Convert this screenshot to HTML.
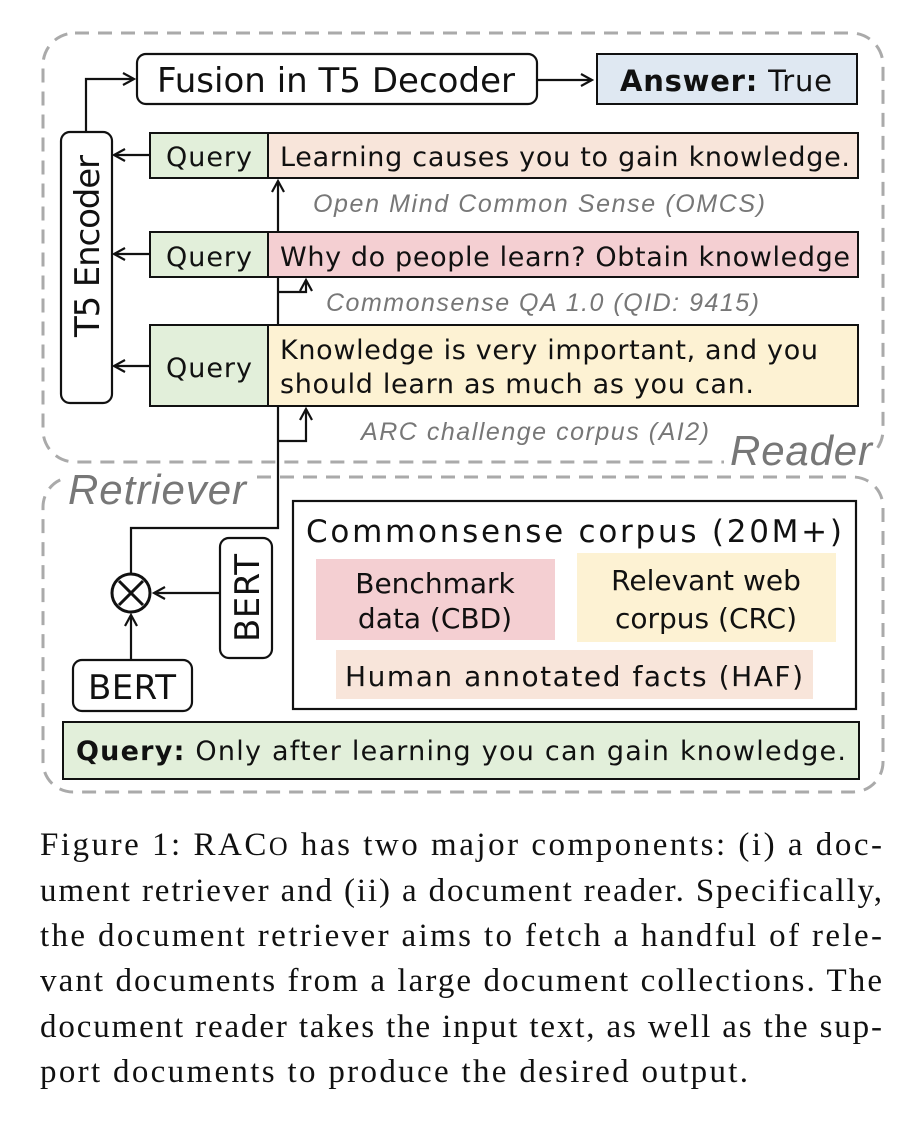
<!DOCTYPE html>
<html><head><meta charset="utf-8"><style>
html,body{margin:0;padding:0;background:#fff;width:920px;height:1124px;overflow:hidden}
svg{display:block}
.s{font-family:"DejaVu Sans","Liberation Sans",sans-serif;fill:#111}
.i{font-family:"Liberation Sans",sans-serif;font-style:italic;fill:#777}
.cap{font-family:"Liberation Serif",serif;font-size:33px;fill:#111}
</style></head><body>
<svg width="920" height="1124" viewBox="0 0 920 1124" xmlns="http://www.w3.org/2000/svg">
<defs><marker id="a" markerWidth="14" markerHeight="14" refX="12" refY="7" orient="auto" markerUnits="userSpaceOnUse"><path d="M1,1 L12,7 L1,13" fill="none" stroke="#111" stroke-width="2.2"/></marker></defs>
<rect x="43" y="33" width="840" height="429" rx="32" fill="none" stroke="#aaa" stroke-width="3" stroke-dasharray="14,9"/>
<rect x="43" y="477" width="840" height="315" rx="30" fill="none" stroke="#aaa" stroke-width="3" stroke-dasharray="14,9"/>
<rect x="66" y="470" width="190" height="40" fill="#fff"/>
<rect x="724" y="430" width="150" height="40" fill="#fff"/>
<text class="i" x="730" y="465" font-size="42" textLength="142">Reader</text>
<text class="i" x="68" y="504" font-size="42" textLength="178">Retriever</text>
<rect x="137" y="54" width="400" height="50" rx="9" fill="#fff" stroke="#111" stroke-width="2.2"/>
<text class="s" x="157" y="92" font-size="34" textLength="358">Fusion in T5 Decoder</text>
<line x1="537" y1="80" x2="592" y2="80" stroke="#111" stroke-width="2.2" marker-end="url(#a)"/>
<rect x="597" y="54" width="260" height="50" fill="#dfe8f2" stroke="#111" stroke-width="2"/>
<text class="s" x="620" y="91" font-size="29" textLength="212"><tspan font-weight="bold">Answer:</tspan> True</text>
<rect x="61" y="132" width="51" height="271" rx="9" fill="#fff" stroke="#111" stroke-width="2.2"/>
<text class="s" font-size="34" transform="translate(99,337) rotate(-90)" textLength="182">T5 Encoder</text>
<polyline points="86,132 86,79 134,79" fill="none" stroke="#111" stroke-width="2.2" marker-end="url(#a)"/>
<g stroke="#111" stroke-width="2">
<rect x="150" y="133" width="118" height="45" fill="#e2efda"/>
<rect x="268" y="133" width="590" height="45" fill="#f8e5da"/>
<rect x="150" y="232" width="118" height="45" fill="#e2efda"/>
<rect x="268" y="232" width="590" height="45" fill="#f4cfd2"/>
<rect x="150" y="325" width="118" height="81" fill="#e2efda"/>
<rect x="268" y="325" width="590" height="81" fill="#fdf2d3"/>
</g>
<g class="s" font-size="27">
<text x="166" y="166" textLength="86">Query</text>
<text x="166" y="266" textLength="86">Query</text>
<text x="166" y="377" textLength="86">Query</text>
<text x="280" y="166" textLength="570">Learning causes you to gain knowledge.</text>
<text x="280" y="266" textLength="570">Why do people learn? Obtain knowledge</text>
<text x="280" y="359" textLength="538">Knowledge is very important, and you</text>
<text x="280" y="393" textLength="474">should learn as much as you can.</text>
</g>
<g stroke="#111" stroke-width="2.2" fill="none">
<line x1="150" y1="155" x2="114" y2="155" marker-end="url(#a)"/>
<line x1="150" y1="254" x2="114" y2="254" marker-end="url(#a)"/>
<line x1="150" y1="366" x2="114" y2="366" marker-end="url(#a)"/>
<line x1="278" y1="232" x2="278" y2="181" marker-end="url(#a)"/>
<line x1="278" y1="277" x2="278" y2="325"/>
<polyline points="278,292 306,292 306,280" marker-end="url(#a)"/>
<polyline points="278,441 306,441 306,409" marker-end="url(#a)"/>
<polyline points="278,406 278,528 131,528 131,573"/>
</g>
<g class="i" font-size="25">
<text x="313" y="212" textLength="452">Open Mind Common Sense (OMCS)</text>
<text x="326" y="311" textLength="433">Commonsense QA 1.0 (QID: 9415)</text>
<text x="361" y="440" textLength="348">ARC challenge corpus (AI2)</text>
</g>
<circle cx="131" cy="593" r="19" fill="#fff" stroke="#111" stroke-width="3"/>
<path d="M119,581 L143,605 M143,581 L119,605" stroke="#111" stroke-width="3"/>
<rect x="220" y="538" width="52" height="120" rx="9" fill="#fff" stroke="#111" stroke-width="2.2"/>
<text class="s" font-size="34" transform="translate(259,642) rotate(-90)" textLength="88">BERT</text>
<line x1="220" y1="593" x2="154" y2="593" stroke="#111" stroke-width="2.2" marker-end="url(#a)"/>
<rect x="73" y="660" width="119" height="51" rx="9" fill="#fff" stroke="#111" stroke-width="2.2"/>
<text class="s" x="88" y="699" font-size="34" textLength="88">BERT</text>
<line x1="131" y1="660" x2="131" y2="615" stroke="#111" stroke-width="2.2" marker-end="url(#a)"/>
<rect x="293" y="501" width="563" height="208" fill="#fff" stroke="#111" stroke-width="2.2"/>
<text class="s" x="306" y="542" font-size="31" textLength="536">Commonsense corpus (20M+)</text>
<rect x="316" y="559" width="239" height="81" fill="#f4cfd2"/>
<rect x="577" y="553" width="259" height="89" fill="#fdf2d3"/>
<rect x="336" y="650" width="477" height="49" fill="#f8e5da"/>
<g class="s" font-size="28">
<text x="435" y="593" text-anchor="middle">Benchmark</text>
<text x="435" y="628" text-anchor="middle">data (CBD)</text>
<text x="706" y="590" text-anchor="middle">Relevant web</text>
<text x="706" y="628" text-anchor="middle">corpus (CRC)</text>
<text x="345" y="686" textLength="458">Human annotated facts (HAF)</text>
</g>
<rect x="63" y="722" width="796" height="57" fill="#e2efda" stroke="#111" stroke-width="2"/>
<text class="s" x="76" y="760" font-size="27" textLength="770"><tspan font-weight="bold">Query:</tspan> Only after learning you can gain knowledge.</text>
<text class="cap" x="40" y="855" textLength="842">Figure 1: RAC<tspan font-size="26">O</tspan> has two major components: (i) a doc-</text>
<text class="cap" x="40" y="901" textLength="842">ument retriever and (ii) a document reader. Specifically,</text>
<text class="cap" x="40" y="946" textLength="842">the document retriever aims to fetch a handful of rele-</text>
<text class="cap" x="40" y="991" textLength="842">vant documents from a large document collections. The</text>
<text class="cap" x="40" y="1037" textLength="842">document reader takes the input text, as well as the sup-</text>
<text class="cap" x="40" y="1082" textLength="708">port documents to produce the desired output.</text>
</svg>
</body></html>
